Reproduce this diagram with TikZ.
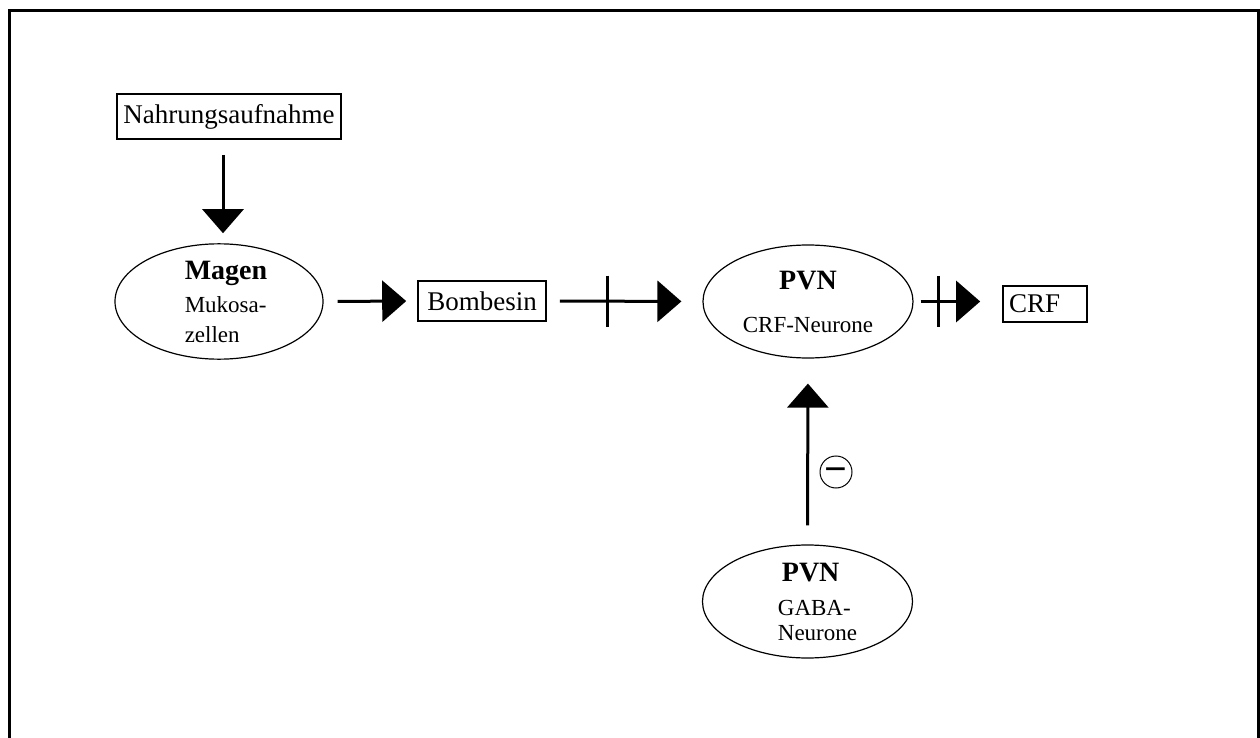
\documentclass[tikz,border=0pt]{standalone}
\usepackage{fontspec}
\setmainfont{Liberation Serif}
\usetikzlibrary{arrows.meta,shapes.geometric}

\begin{document}
\begin{tikzpicture}[x=0.5pt, y=-0.5pt,
  kasten/.style={draw, line width=0.8pt, inner xsep=3pt, inner ysep=0pt, font=\fontsize{13.5pt}{16pt}\selectfont},
  zelle/.style={draw, ellipse, line width=0.6pt, inner sep=0pt, align=center, minimum width=105pt, minimum height=56.5pt, font=\fontsize{11.5pt}{12.5pt}\selectfont},
  pfeil/.style={line width=1.5pt, -{Triangle[length=12pt,width=20.5pt]}},
  strich/.style={line width=1.5pt}]

  % Rahmen
  \useasboundingbox (0,0) rectangle (1260,738);
  \draw[line width=1.5pt] (9.5,738) -- (9.5,10.5) -- (1258.5,10.5) -- (1258.5,738);

  % Kaesten
  \node[kasten, minimum width=112pt, minimum height=22.5pt] (nahrung) at (229,116.5) {Nahrungsaufnahme};
  \node[kasten, minimum width=64pt, minimum height=20pt] (bombesin) at (482,301) {Bombesin};
  \node[kasten, text width=36pt, align=left, minimum height=18pt] (crf) at (1045,304) {CRF};

  % Zellen
  \node[zelle, align=left, minimum width=104pt, minimum height=57.5pt] (magen) at (219,301.5)
    {\hspace*{7pt}{\bfseries\fontsize{14pt}{14pt}\selectfont Magen}\\[4pt]
     \hspace*{7pt}Mukosa-\\[2.5pt] \hspace*{7pt}zellen};
  \node[zelle] (pvn) at (808,301.5)
    {{\bfseries\fontsize{14pt}{14pt}\selectfont PVN}\\[9pt] CRF-Neurone};
  \node[zelle, align=left] (gaba) at (807.5,601.5)
    {\hspace*{12pt}{\bfseries\fontsize{14pt}{14pt}\selectfont PVN}\\[4.5pt]
     \hspace*{10pt}GABA-\\ \hspace*{10pt}Neurone};

  % Hemmung
  \node[circle, draw, line width=0.5pt, minimum size=16pt, inner sep=0pt,
    font=\bfseries\fontsize{20pt}{20pt}\selectfont, text height=10pt, text depth=0pt] (minus) at (836,472) {−};

  % Pfeile
  \draw[pfeil, shorten <=7.5pt, shorten >=5pt] ([xshift=2pt]nahrung.south -| magen.north) -- ([xshift=2pt]magen.north);
  \draw[pfeil, shorten <=7pt, shorten >=5.5pt] (magen.east) -- (bombesin.west);
  \draw[pfeil, shorten <=6.5pt, shorten >=10.5pt] (bombesin.east) -- coordinate[pos=0.389] (hemm1) (pvn.west);
  \draw[pfeil, shorten <=3.5pt, shorten >=11pt] (pvn.east) -- coordinate[pos=0.278] (hemm2) (pvn.east -| crf.west);
  \draw[pfeil, shorten <=9.5pt, shorten >=12.5pt] (gaba.north) -- (pvn.south);

  % Querstriche
  \draw[strich] (hemm1) ++(0,-25.5) -- ++(0,51);
  \draw[strich] (hemm2) ++(0,-25.5) -- ++(0,51);
\end{tikzpicture}
\end{document}
